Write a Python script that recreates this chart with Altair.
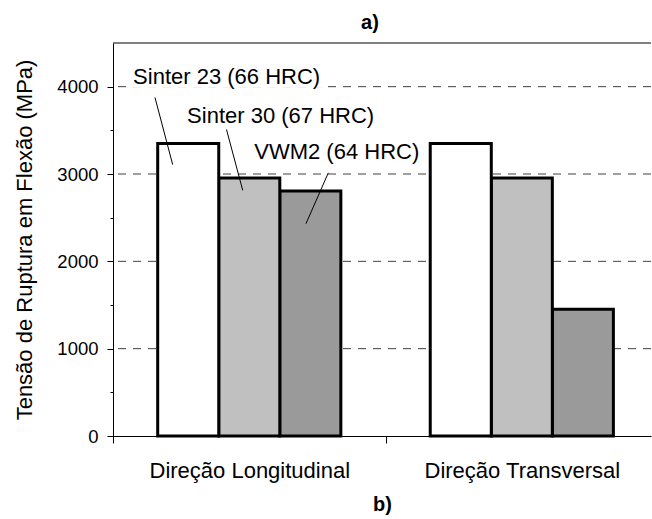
import altair as alt
import pandas as pd

# ---------------- data ----------------
categories = ["Direção Longitudinal", "Direção Transversal"]
series = ["Sinter 23 (66 HRC)", "Sinter 30 (67 HRC)", "VWM2 (64 HRC)"]
values_longitudinal = [3350, 2955, 2805]
values_transversal = [3350, 2955, 1450]
y_major_ticks = [0, 1000, 2000, 3000, 4000]
y_minor_ticks = [500, 1500, 2500, 3500]
y_max = 4500
title_top = "a)"
title_bottom = "b)"
y_title = "Tensão de Ruptura em Flexão (MPa)"

# ---------------- styles ----------------
FONT = "Liberation Sans"
fills = ["#ffffff", "#c0c0c0", "#9a9a9a"]
stroke_widths = [3, 3, 1.5]
GROUP_PAD = 0.164
BAR_W = (1 - 2 * GROUP_PAD) / 3
X_MAX = 1.974

rows = []
for g, (cat, vals) in enumerate(zip(categories, [values_longitudinal, values_transversal])):
    for s, (name, v) in enumerate(zip(series, vals)):
        rows.append({"categoria": cat, "g": g, "serie": name, "s": s, "valor": v})
bars_df = pd.DataFrame(rows).sort_values(["g", "s"], ascending=[True, False])

# annotation placement (in data units of the chart: group position, MPa)
ann_df = pd.DataFrame({
    "serie": series,
    "tx": [0.417, 0.615, 0.821],
    "ty": [4106, 3661, 3248],
    "bx1": [0.051, 0.262, 0.520],
    "bx2": [0.786, 0.973, 1.120],
    "by1": [3990, 3560, 3130],
    "by2": [4260, 3830, 3400],
    "lx1": [0.154, 0.4165, 0.790],
    "ly1": [3876, 3509, 3013],
    "lx2": [0.219, 0.476, 0.708],
    "ly2": [3108, 2813, 2431],
})

grid_df = pd.DataFrame({"v": [t for t in y_major_ticks if t > 0]})
top_df = pd.DataFrame({"v": [y_max]})

x_scale = alt.Scale(domain=[0, X_MAX], nice=False, zero=False)
y_scale = alt.Scale(domain=[0, y_max], nice=False)

label_expr = (
    f"datum.value == 0.5 ? '{categories[0]}' : "
    f"datum.value == 1.5 ? '{categories[1]}' : ''"
)

x_axis = alt.Axis(
    values=[0, 0.5, 1, 1.5],
    labelExpr=label_expr,
    tickOpacity={"condition": {"test": "datum.value % 1 === 0", "value": 1}, "value": 0},
    tickSize=7,
    tickColor="black",
    domainColor="black",
    labelFont=FONT,
    labelFontSize=22,
    labelColor="black",
    labelPadding=17,
    labelLimit=0,
    labelFlush=False,
    labelOverlap=False,
    grid=False,
    title=title_bottom,
    titleFont=FONT,
    titleFontSize=20,
    titleFontWeight="bold",
    titleColor="black",
    titlePadding=13,
)

y_axis = alt.Axis(
    values=y_major_ticks + y_minor_ticks,
    format="d",
    labelExpr="datum.value % 1000 === 0 ? datum.label : ''",
    tickSize={"condition": {"test": "datum.value % 1000 === 0", "value": 6}, "value": 3},
    tickColor="black",
    domainColor="black",
    labelFont=FONT,
    labelFontSize=18.5,
    labelColor="black",
    labelPadding=9,
    grid=False,
    title=y_title,
    titleFont=FONT,
    titleFontSize=22,
    titleFontWeight="normal",
    titleColor="black",
    titlePadding=20,
)

grid = alt.Chart(grid_df).mark_rule(color="#404040", strokeWidth=1, strokeDash=[8, 7]).encode(
    y=alt.Y("v:Q", scale=y_scale, axis=y_axis),
)

top_line = alt.Chart(top_df).mark_rule(color="black", strokeWidth=1).encode(
    y=alt.Y("v:Q", scale=y_scale),
)

bars = alt.Chart(bars_df).transform_calculate(
    x0=f"datum.g + {GROUP_PAD} + datum.s * {BAR_W}",
    x1=f"datum.g + {GROUP_PAD} + (datum.s + 1) * {BAR_W}",
).mark_rect(stroke="black", strokeJoin="miter").encode(
    x=alt.X("x0:Q", scale=x_scale, axis=x_axis),
    x2="x1:Q",
    y=alt.Y("valor:Q", scale=y_scale),
    y2=alt.datum(0),
    fill=alt.Fill("serie:N", scale=alt.Scale(domain=series, range=fills), legend=None),
    strokeWidth=alt.StrokeWidth("serie:N", scale=alt.Scale(domain=series, range=stroke_widths), legend=None),
    order=alt.Order("s:Q", sort="descending"),
)

boxes = alt.Chart(ann_df).mark_rect(fill="white", stroke=None).encode(
    x=alt.X("bx1:Q", scale=x_scale),
    x2="bx2:Q",
    y=alt.Y("by1:Q", scale=y_scale),
    y2="by2:Q",
)

leaders = alt.Chart(ann_df).mark_rule(color="black", strokeWidth=1).encode(
    x=alt.X("lx1:Q", scale=x_scale),
    y=alt.Y("ly1:Q", scale=y_scale),
    x2="lx2:Q",
    y2="ly2:Q",
)

texts = alt.Chart(ann_df).mark_text(
    font=FONT, fontSize=22, color="black", align="center", baseline="middle"
).encode(
    x=alt.X("tx:Q", scale=x_scale),
    y=alt.Y("ty:Q", scale=y_scale),
    text="serie:N",
)

chart = alt.layer(grid, top_line, bars, boxes, leaders, texts).properties(
    width=538,
    height=393,
    title=alt.TitleParams(
        title_top, font=FONT, fontSize=20, fontWeight="bold", color="black",
        anchor="middle", dx=-12, offset=10,
    ),
    autosize=alt.AutoSizeParams(type="none"),
    padding={"left": 113, "top": 43, "right": 1, "bottom": 83},
    background="white",
).configure_view(stroke=None)

chart.save("out.html", embed_options={"renderer": "svg", "actions": False})
